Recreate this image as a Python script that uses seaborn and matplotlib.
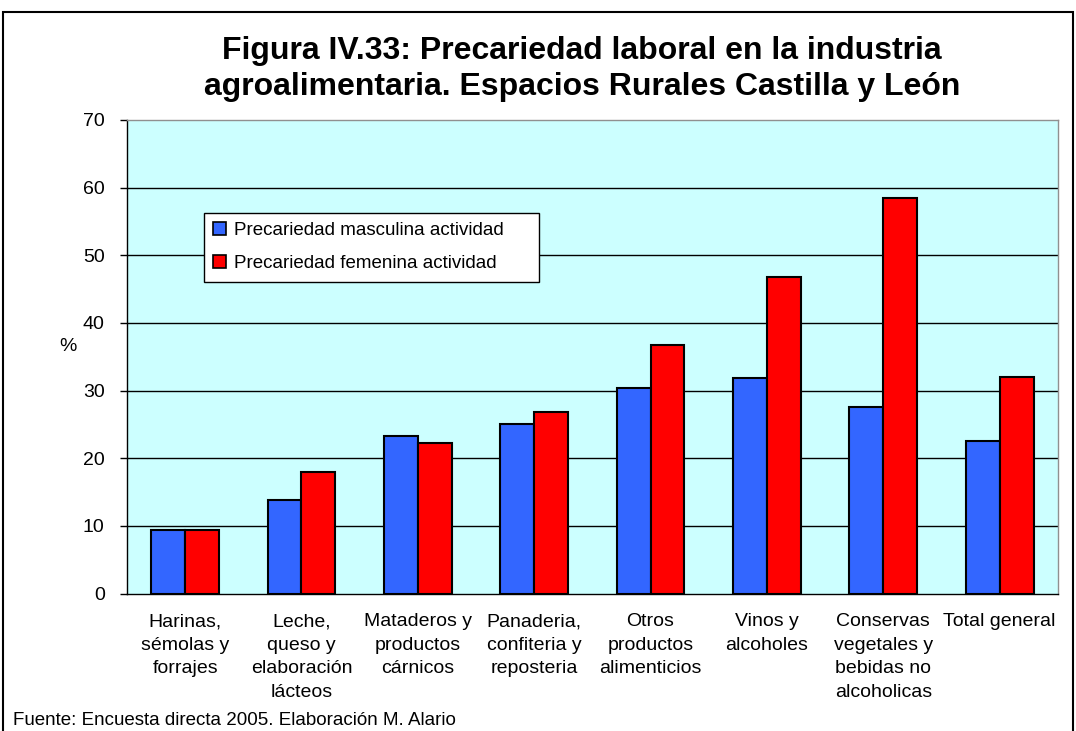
import matplotlib
matplotlib.use("Agg")
import matplotlib.pyplot as plt
from matplotlib.patches import Rectangle
import numpy as np
import pandas as pd
import seaborn as sns

# Sectores de la industria agroalimentaria
categorias = [
    "Harinas,\nsémolas y\nforrajes",
    "Leche,\nqueso y\nelaboración\nlácteos",
    "Mataderos y\nproductos\ncárnicos",
    "Panaderia,\nconfiteria y\nreposteria",
    "Otros\nproductos\nalimenticios",
    "Vinos y\nalcoholes",
    "Conservas\nvegetales y\nbebidas no\nalcoholicas",
    "Total general",
]
series = ["Precariedad masculina actividad", "Precariedad femenina actividad"]
masculina = [9.4, 13.8, 23.3, 25.1, 30.4, 31.8, 27.6, 22.5]
femenina = [9.4, 17.9, 22.3, 26.8, 36.8, 46.8, 58.4, 32.0]
yticks = [0, 10, 20, 30, 40, 50, 60, 70]

titulo = ("Figura IV.33: Precariedad laboral en la industria\n"
          "agroalimentaria. Espacios Rurales Castilla y León")
fuente = "Fuente: Encuesta directa 2005. Elaboración M. Alario"

df = pd.DataFrame({
    "sector": categorias * 2,
    "serie": [series[0]] * len(categorias) + [series[1]] * len(categorias),
    "valor": masculina + femenina,
})

sns.set_style("white")
plt.rcParams["font.family"] = ["Liberation Sans", "DejaVu Sans"]
plt.rcParams["text.color"] = "black"
plt.rcParams["axes.labelcolor"] = "black"
plt.rcParams["xtick.color"] = "black"
plt.rcParams["ytick.color"] = "black"

fig = plt.figure(figsize=(10.76, 7.31), dpi=100)
ax = fig.add_axes([0.118, 0.188, 0.865, 0.648])
ax.set_facecolor("#CCFFFF")

sns.barplot(data=df, x="sector", y="valor", hue="serie", order=categorias,
            hue_order=series, palette=["#3366FF", "#FF0000"], width=0.584,
            gap=0, edgecolor="black", linewidth=1.5, saturation=1, ax=ax,
            zorder=3)

ax.set_ylim(0, 70)
ax.set_xlim(-0.5, len(categorias) - 0.5)
ax.set_yticks(yticks)
ax.set_yticklabels([str(v) for v in yticks], fontsize=14)
ax.yaxis.grid(True, color="black", linewidth=1)
ax.get_ygridlines()[-1].set_visible(False)
ax.get_ygridlines()[0].set_visible(False)
ax.set_axisbelow(True)

ax.set_xticks(range(len(categorias)))
ax.set_xticklabels(categorias, fontsize=14, linespacing=1.5, va="top")
ax.tick_params(axis="x", which="major", length=0, pad=14)
ax.set_xticks(np.arange(-0.5, len(categorias)), minor=True)
ax.tick_params(axis="x", which="minor", length=5, width=1, color="black",
               direction="out")
ax.tick_params(axis="y", length=5, width=1, color="black", direction="out",
               left=True, pad=11)

ax.set_xlabel("")
ax.set_ylabel("%", fontsize=14, rotation=0, ha="center", va="center")
ax.yaxis.set_label_coords(-0.063, 0.521)

for side in ["left", "bottom"]:
    ax.spines[side].set_color("black")
    ax.spines[side].set_linewidth(1)
for side in ["top", "right"]:
    ax.spines[side].set_color("#909090")
    ax.spines[side].set_linewidth(1)

leg = ax.legend(loc="upper left", bbox_to_anchor=(0.0827, 0.5, 0.36, 0.3036),
                mode="expand", borderaxespad=0, fontsize=13.5, frameon=True,
                fancybox=False, handlelength=0.7, handleheight=0.7,
                handletextpad=0.4, labelspacing=0.85, borderpad=0.5,
                framealpha=1)
leg.get_frame().set_edgecolor("black")
leg.get_frame().set_linewidth(1)
leg.get_frame().set_facecolor("white")
leg.set_zorder(5)
for h in leg.legend_handles:
    h.set_edgecolor("black")
    h.set_linewidth(1.2)

fig.text(0.541, 0.906, titulo, ha="center", va="center", fontsize=23,
         fontweight="bold", linespacing=1.25)
fig.text(0.012, 0.015, fuente, ha="left", va="center", fontsize=13.5)

fig.patches.append(Rectangle((3 / 1076, -0.05), 1070 / 1076,
                             (731 - 12) / 731 + 0.05, transform=fig.transFigure,
                             fill=False, edgecolor="black", linewidth=1.5))

fig.savefig("out.png", dpi=100)
